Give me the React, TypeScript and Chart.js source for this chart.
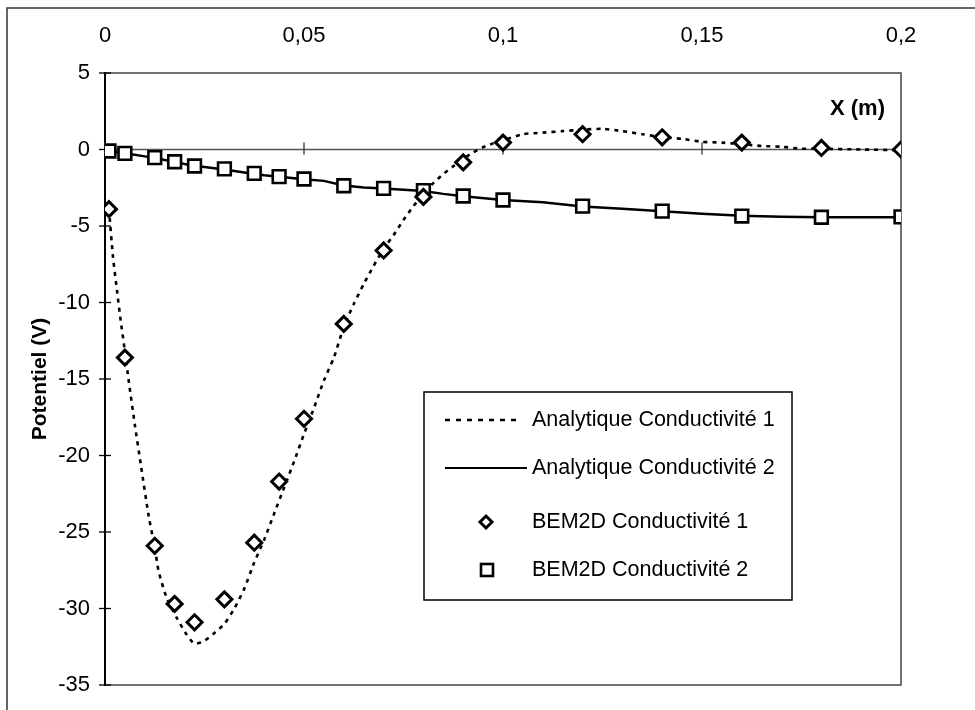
import React, { useEffect, useRef } from 'react';
import { Chart, registerables } from 'chart.js';

Chart.register(...registerables);

// ---- tick labels ----
const xTickValues = [0, 0.05, 0.1, 0.15, 0.2];
const xTickLabels = ['0', '0,05', '0,1', '0,15', '0,2'];
const yTickValues = [5, 0, -5, -10, -15, -20, -25, -30, -35];
const yTickLabels = ['5', '0', '-5', '-10', '-15', '-20', '-25', '-30', '-35'];

// ---- series labels ----
const seriesLabels = [
  'Analytique Conductivité 1',
  'Analytique Conductivité 2',
  'BEM2D Conductivité 1',
  'BEM2D Conductivité 2',
];

// ---- Analytique Conductivité 1 (dashed curve) ----
const analytic1X = [
  0.001, 0.002, 0.003, 0.004, 0.005, 0.006, 0.0075, 0.009, 0.011, 0.0125, 0.0135,
  0.0155, 0.018, 0.0205, 0.0225, 0.025, 0.0275, 0.03, 0.0325, 0.035, 0.0375, 0.04,
  0.0425, 0.045, 0.0475, 0.05, 0.0525, 0.055, 0.0575, 0.06, 0.0625, 0.065, 0.0675,
  0.07, 0.0725, 0.075, 0.0775, 0.08, 0.0825, 0.085, 0.0875, 0.09, 0.0925, 0.095,
  0.0975, 0.1, 0.105, 0.11, 0.115, 0.12, 0.125, 0.13, 0.135, 0.14, 0.145, 0.15,
  0.155, 0.16, 0.165, 0.17, 0.175, 0.18, 0.19, 0.2,
];
const analytic1Y = [
  -3.9, -7.0, -9.2, -11.3, -13.2, -15.2, -18.0, -20.6, -24.0, -26.0, -27.6,
  -29.3, -30.6, -31.7, -32.3, -32.1, -31.6, -31.0, -30.0, -28.7, -27.0, -25.5,
  -23.8, -22.1, -20.4, -18.6, -16.9, -15.1, -13.6, -11.6, -10.1, -8.8, -7.6,
  -6.5, -5.6, -4.6, -3.7, -2.9, -2.2, -1.6, -1.1, -0.6, -0.2, 0.15,
  0.4, 0.6, 1.0, 1.1, 1.2, 1.3, 1.35, 1.2, 1.0, 0.8, 0.7, 0.5,
  0.45, 0.35, 0.23, 0.18, 0.05, 0.05, 0.0, -0.05,
];

// ---- Analytique Conductivité 2 (solid line) ----
const analytic2X = [
  0.001, 0.005, 0.01, 0.0125, 0.015, 0.0175, 0.02, 0.0225, 0.025, 0.03, 0.035, 0.04,
  0.045, 0.05, 0.055, 0.06, 0.065, 0.07, 0.08, 0.085, 0.09, 0.1, 0.11, 0.12, 0.13,
  0.14, 0.15, 0.16, 0.17, 0.18, 0.19, 0.2,
];
const analytic2Y = [
  -0.1, -0.25, -0.45, -0.55, -0.68, -0.8, -0.95, -1.08, -1.15, -1.3, -1.5, -1.68,
  -1.82, -1.95, -2.05, -2.35, -2.48, -2.55, -2.72, -2.9, -3.05, -3.3, -3.45, -3.72, -3.88,
  -4.03, -4.2, -4.33, -4.4, -4.43, -4.43, -4.43,
];

// ---- BEM2D points ----
const bemX = [
  0.001, 0.005, 0.0125, 0.0175, 0.0225, 0.03, 0.0375, 0.04375, 0.05, 0.06, 0.07,
  0.08, 0.09, 0.1, 0.12, 0.14, 0.16, 0.18, 0.2,
];
const bem1Y = [
  -3.9, -13.6, -25.9, -29.7, -30.9, -29.4, -25.7, -21.7, -17.6, -11.4, -6.6,
  -3.1, -0.84, 0.45, 1.0, 0.8, 0.45, 0.1, 0.0,
];
const bem2Y = [
  -0.1, -0.25, -0.53, -0.8, -1.08, -1.27, -1.56, -1.77, -1.93, -2.37, -2.54,
  -2.69, -3.04, -3.3, -3.7, -4.03, -4.35, -4.43, -4.4,
];

const FONT_FAMILY = '"Liberation Sans", Arial, Helvetica, sans-serif';

const zip = (xs: number[], ys: number[]) => xs.map((x, i) => ({ x, y: ys[i] }));

const decorPlugin = {
  id: 'decor',
  beforeDatasetsDraw(chart: any) {
    const { ctx, chartArea } = chart;
    const xs = chart.scales.x;
    const ys = chart.scales.y;
    ctx.save();
    // plot area border (top, right, bottom)
    ctx.strokeStyle = '#444';
    ctx.lineWidth = 1.5;
    ctx.beginPath();
    ctx.moveTo(chartArea.left, chartArea.top);
    ctx.lineTo(chartArea.right, chartArea.top);
    ctx.lineTo(chartArea.right, chartArea.bottom);
    ctx.lineTo(chartArea.left, chartArea.bottom);
    ctx.stroke();
    // zero line (x axis crossing at y = 0)
    const y0 = ys.getPixelForValue(0);
    ctx.strokeStyle = '#555';
    ctx.lineWidth = 1.5;
    ctx.beginPath();
    ctx.moveTo(chartArea.left, y0);
    ctx.lineTo(chartArea.right, y0);
    ctx.stroke();
    // x tick marks crossing the zero line
    ctx.strokeStyle = '#333';
    ctx.lineWidth = 1.3;
    xTickValues.forEach((v) => {
      const px = xs.getPixelForValue(v);
      ctx.beginPath();
      ctx.moveTo(px, y0 - 7);
      ctx.lineTo(px, y0 + 5);
      ctx.stroke();
    });
    // y tick marks crossing the y axis
    ctx.strokeStyle = '#000';
    ctx.lineWidth = 1.3;
    yTickValues.forEach((v) => {
      const py = ys.getPixelForValue(v);
      ctx.beginPath();
      ctx.moveTo(chartArea.left - 6, py);
      ctx.lineTo(chartArea.left + 6, py);
      ctx.stroke();
    });
    ctx.restore();
  },
  afterDatasetsDraw(chart: any) {
    const { ctx, chartArea } = chart;
    ctx.save();
    // "X (m)" label
    ctx.fillStyle = '#000';
    ctx.font = `bold 22px ${FONT_FAMILY}`;
    ctx.textAlign = 'right';
    ctx.textBaseline = 'middle';
    ctx.fillText('X (m)', chartArea.right - 16, 109);

    // legend box
    const bx = 424, by = 392, bw = 368, bh = 208;
    ctx.fillStyle = '#fff';
    ctx.fillRect(bx, by, bw, bh);
    ctx.strokeStyle = '#000';
    ctx.lineWidth = 1.5;
    ctx.strokeRect(bx, by, bw, bh);

    const rows = [420, 468, 522, 570];
    const textX = 532;
    ctx.font = `21.5px ${FONT_FAMILY}`;
    ctx.textAlign = 'left';
    ctx.fillStyle = '#000';

    // row 1: dashed
    ctx.strokeStyle = '#000';
    ctx.lineWidth = 2.4;
    ctx.setLineDash([5, 6]);
    ctx.beginPath();
    ctx.moveTo(445, rows[0]);
    ctx.lineTo(520, rows[0]);
    ctx.stroke();
    ctx.setLineDash([]);
    // row 2: solid
    ctx.lineWidth = 2.2;
    ctx.beginPath();
    ctx.moveTo(445, rows[1]);
    ctx.lineTo(527, rows[1]);
    ctx.stroke();
    // row 3: diamond
    ctx.lineWidth = 3;
    ctx.beginPath();
    const dx = 486, dy = rows[2], r = 6;
    ctx.moveTo(dx, dy - r);
    ctx.lineTo(dx + r, dy);
    ctx.lineTo(dx, dy + r);
    ctx.lineTo(dx - r, dy);
    ctx.closePath();
    ctx.stroke();
    // row 4: square
    ctx.lineWidth = 2.6;
    ctx.strokeRect(481, rows[3] - 6, 12, 12);

    seriesLabels.forEach((t, i) => {
      ctx.fillText(t, textX, rows[i]);
    });
    ctx.restore();
  },
  afterDraw(chart: any) {
    const { ctx, width, height } = chart;
    ctx.save();
    ctx.strokeStyle = '#333';
    ctx.lineWidth = 1.5;
    ctx.beginPath();
    ctx.moveTo(7, height);
    ctx.lineTo(7, 8);
    ctx.lineTo(width, 8);
    ctx.stroke();
    ctx.restore();
  },
};

export default function App() {
  const ref = useRef<HTMLCanvasElement | null>(null);

  useEffect(() => {
    if (!ref.current) return;
    const tickFont = { family: FONT_FAMILY, size: 22 };
    const chart = new Chart(ref.current, {
      type: 'scatter',
      data: {
        datasets: [
          {
            label: seriesLabels[2],
            data: zip(bemX, bem1Y),
            showLine: false,
            pointStyle: 'rectRot',
            pointRadius: 7.5,
            pointBorderWidth: 3,
            borderColor: '#000',
            backgroundColor: '#fff',
            order: 0,
          },
          {
            label: seriesLabels[3],
            data: zip(bemX, bem2Y),
            showLine: false,
            pointStyle: 'rect',
            pointRadius: 9,
            pointBorderWidth: 2.6,
            borderColor: '#000',
            backgroundColor: '#fff',
            order: 1,
          },
          {
            label: seriesLabels[0],
            data: zip(analytic1X, analytic1Y),
            showLine: true,
            borderColor: '#000',
            borderWidth: 2.6,
            borderDash: [4, 5],
            pointRadius: 0,
            tension: 0.2,
            order: 2,
          },
          {
            label: seriesLabels[1],
            data: zip(analytic2X, analytic2Y),
            showLine: true,
            borderColor: '#000',
            borderWidth: 2.5,
            pointRadius: 0,
            tension: 0,
            order: 3,
          },
        ],
      },
      options: {
        animation: false,
        responsive: false,
        devicePixelRatio: 1,
        layout: { padding: { left: 20, right: 74, top: 0, bottom: 25 } },
        plugins: {
          legend: { display: false },
          tooltip: { enabled: false },
          title: { display: false },
        },
        scales: {
          x: {
            type: 'linear',
            position: 'top',
            min: 0,
            max: 0.2,
            afterBuildTicks: (s: any) => {
              s.ticks = xTickValues.map((v) => ({ value: v }));
            },
            afterFit: (s: any) => {
              s.height = 73;
              s.paddingLeft = 0;
              s.paddingRight = 0;
            },
            grid: { display: false, drawTicks: false },
            border: { display: false },
            ticks: {
              padding: 24,
              font: tickFont,
              color: '#000',
              maxRotation: 0,
              autoSkip: false,
              callback: (_v: any, i: number) => xTickLabels[i],
            },
          },
          y: {
            type: 'linear',
            min: -35,
            max: 5,
            afterBuildTicks: (s: any) => {
              s.ticks = yTickValues.map((v) => ({ value: v }));
            },
            afterFit: (s: any) => {
              s.width = 85;
              s.paddingTop = 0;
              s.paddingBottom = 0;
            },
            grid: { display: false, drawTicks: false },
            border: { display: true, color: '#000', width: 2 },
            ticks: {
              padding: 15,
              font: tickFont,
              color: '#000',
              autoSkip: false,
              callback: (_v: any, i: number) => yTickLabels[i],
            },
            title: {
              display: true,
              text: 'Potentiel (V)',
              color: '#000',
              font: { family: FONT_FAMILY, size: 21, weight: 'bold' },
              padding: { top: 8, bottom: 0 },
            },
          },
        },
      },
      plugins: [decorPlugin],
    } as any);
    return () => chart.destroy();
  }, []);

  return (
    <div
      style={{
        position: 'fixed',
        left: 0,
        top: 0,
        width: 975,
        height: 710,
        background: '#fff',
      }}
    >
      <canvas ref={ref} width={975} height={710} style={{ display: 'block', width: 975, height: 710 }} />
    </div>
  );
}
